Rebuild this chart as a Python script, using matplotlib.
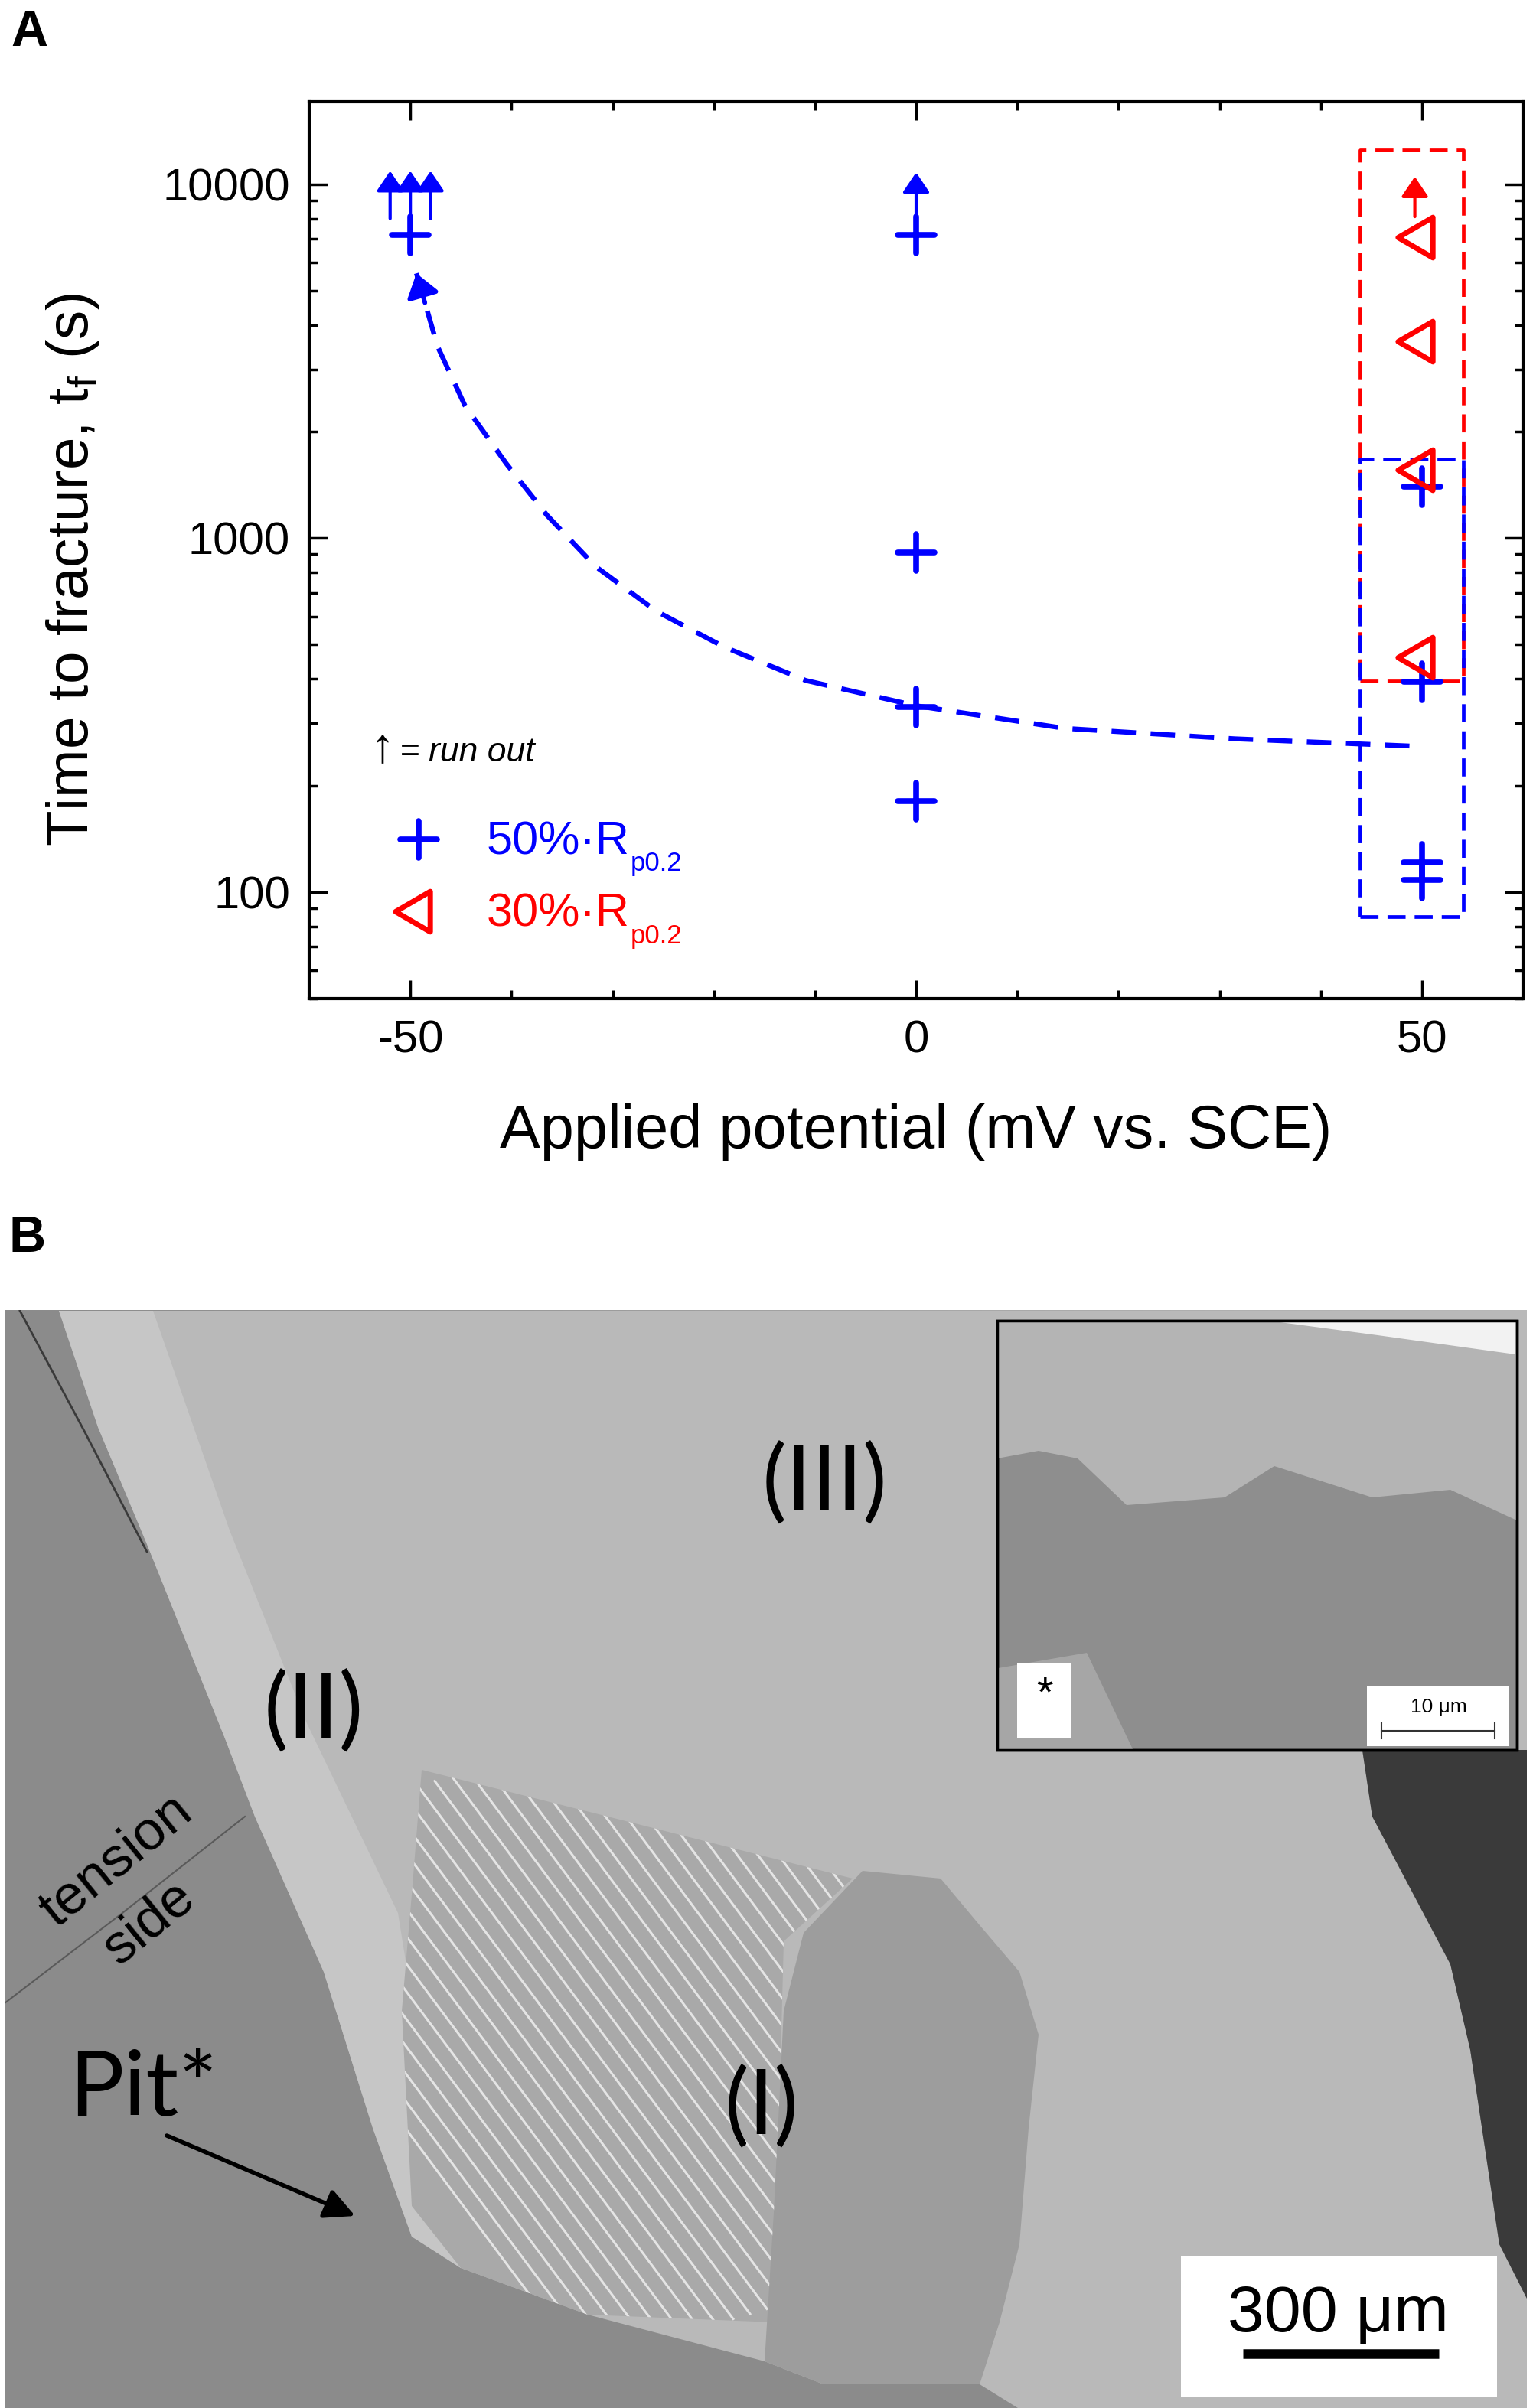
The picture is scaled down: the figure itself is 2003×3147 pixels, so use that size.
import numpy as np
import matplotlib
matplotlib.use('Agg')
import matplotlib.pyplot as plt
from matplotlib.ticker import MultipleLocator, LogLocator, NullFormatter, FuncFormatter
from matplotlib.markers import MarkerStyle
from matplotlib.path import Path
from matplotlib.patches import Polygon, Rectangle

plt.rcParams['font.family'] = ['Liberation Sans', 'DejaVu Sans']
plt.rcParams['mathtext.fontset'] = 'custom'
plt.rcParams['mathtext.rm'] = 'Liberation Sans'
plt.rcParams['mathtext.it'] = 'Liberation Sans:italic'

# ---- data (panel A) ----
pot_50 = [-50, 0, 0, 0, 0, 50, 50, 50, 50]
tf_50 = [7200, 7200, 910, 333, 181, 1400, 392, 121, 108]
pot_30 = [49.3, 49.3, 49.3, 49.3]
tf_30 = [7100, 3600, 1560, 460]

# run-out arrows (start value -> arrow tip)
runout_50_x = [-52, -50, -48, 0]
runout_50_from = [8000, 7200, 8000, 7200]
runout_50_to = [10900, 10900, 10900, 10800]
runout_30_x = [49.3]
runout_30_from = [8100]
runout_30_to = [10500]

# guide curve for 50% Rp0.2
curve_x = [-49.4, -47.3, -44.6, -40.5, -36.5, -31.7, -25.7, -19.0, -10.9, 0, 14.7, 31.5, 49.7]
curve_y = [5600, 3475, 2367, 1622, 1161, 832, 622, 493, 396, 336, 290, 271, 258]

# highlighted groups at +50 mV
box_x = [43.9, 54.1]
red_box_y = [395, 12500]
blue_box_y = [85, 1670]

BLUE = '#0000FF'
RED = '#FF0000'

W, H = 2003, 3147
fig = plt.figure(figsize=(W / 100, H / 100), dpi=100)


def fx(px):
    return px / W


def fy(py):
    return 1 - py / H


# ================= panel A =================
ax = fig.add_axes([fx(404), fy(1305), (1990 - 404) / W, (1305 - 133) / H])
ax.set_yscale('log')
ax.set_xlim(-60, 60)
ax.set_ylim(50, 17100)

plus = MarkerStyle('+', capstyle='round')
tri = Path([(-0.86, 0), (0.86, 1), (0.86, -1), (-0.86, 0)],
           [Path.MOVETO, Path.LINETO, Path.LINETO, Path.CLOSEPOLY])

# dashed boxes
for ys, col in [(red_box_y, RED), (blue_box_y, BLUE)]:
    ax.plot([box_x[0], box_x[1], box_x[1], box_x[0], box_x[0]],
            [ys[0], ys[0], ys[1], ys[1], ys[0]],
            color=col, lw=3.4, dashes=(5, 2.5), zorder=2)

# guide curve with arrow head at its start
ax.plot(curve_x, curve_y, color=BLUE, lw=4.6, dashes=(5, 3), zorder=3)
p0 = ax.transData.transform((curve_x[0], curve_y[0]))
p1 = ax.transData.transform((curve_x[1], curve_y[1]))
d = (p1 - p0) / np.hypot(*(p1 - p0)) * 40 * 0.72
ax.annotate('', xy=(curve_x[0], curve_y[0]), xytext=(d[0], d[1]),
            textcoords='offset points',
            arrowprops=dict(arrowstyle='-|>,head_length=0.45,head_width=0.32',
                            mutation_scale=40, color=BLUE, lw=4.2,
                            shrinkA=0, shrinkB=0), zorder=3)

# run-out arrows
for xs, y0s, y1s, col in [(runout_50_x, runout_50_from, runout_50_to, BLUE),
                          (runout_30_x, runout_30_from, runout_30_to, RED)]:
    for x, y0, y1 in zip(xs, y0s, y1s):
        ax.annotate('', xy=(x, y1), xytext=(x, y0),
                    arrowprops=dict(arrowstyle='-|>,head_length=0.4,head_width=0.27',
                                    mutation_scale=40, color=col, lw=3.0,
                                    shrinkA=0, shrinkB=0), zorder=4)

ax.plot(pot_50, tf_50, ls='none', marker=plus, ms=35, mew=5.5, color=BLUE, zorder=5)
ax.plot(pot_30, tf_30, ls='none', marker=tri, ms=38, mew=5, mfc='none', mec=RED, zorder=5)

# legend drawn by hand
ax.text(-54.0, 234, '\u2191', fontsize=46, va='baseline', ha='left')
ax.text(-51.0, 234, '=', fontsize=32, va='baseline', ha='left')
ax.text(-48.2, 234, 'run out', fontsize=32, va='baseline', ha='left', style='italic')

ax.plot([-49.2], [141], ls='none', marker=plus, ms=35, mew=5.5, color=BLUE)
ax.plot([-49.8], [88], ls='none', marker=tri, ms=38, mew=5, mfc='none', mec=RED)
for label, yb, col in [('50%\u00b7R', 128, BLUE), ('30%\u00b7R', 80, RED)]:
    t = ax.text(-42.5, yb, label, fontsize=44, color=col, va='baseline', ha='left')
    ax.annotate('p0.2', xy=(1, yb), xycoords=(t, 'data'), xytext=(1, -16),
                textcoords='offset points', fontsize=25, color=col,
                va='baseline', ha='left')

ax.xaxis.set_major_locator(MultipleLocator(50))
ax.xaxis.set_minor_locator(MultipleLocator(10))
ax.yaxis.set_major_locator(LogLocator(base=10))
ax.yaxis.set_minor_locator(LogLocator(base=10, subs=range(2, 10)))
ax.yaxis.set_minor_formatter(NullFormatter())
ax.yaxis.set_major_formatter(FuncFormatter(lambda v, p: '%d' % round(v)))
ax.xaxis.set_major_formatter(FuncFormatter(lambda v, p: '%d' % round(v)))
ax.tick_params(which='both', direction='in', top=True, right=True, width=2.5)
ax.tick_params(which='major', length=17, labelsize=43)
ax.tick_params(which='minor', length=8)
ax.tick_params(axis='x', pad=20)
ax.tick_params(axis='y', pad=18)
for s in ax.spines.values():
    s.set_linewidth(3)

fig.text(fx(1197), fy(1500), 'Applied potential (mV vs. SCE)', fontsize=57,
         ha='center', va='baseline')
fig.text(fx(96), fy(744), 'Time to fracture, t$_\\mathregular{f}$ (s)', fontsize=55,
         ha='center', va='center', rotation=90)
fig.text(fx(14), fy(60), 'A', fontsize=48, fontweight='bold', va='baseline')
fig.text(fx(12), fy(1636), 'B', fontsize=48, fontweight='bold', va='baseline')

# ================= panel B (SEM image, sketched) =================
pax = fig.add_axes([fx(6), 0, (1995 - 6) / W, (3147 - 1712) / H])
pax.set_xlim(6, 1995)
pax.set_ylim(3147, 1712)
pax.axis('off')

pax.add_patch(Rectangle((6, 1712), 1989, 1435, color='#8b8b8b', zorder=0))
pax.plot([26, 110, 192], [1713, 1870, 2028], color='#3a3a3a', lw=2, zorder=1)
pax.plot([6, 160, 320], [2618, 2500, 2374], color='#5a5a5a', lw=1.5, zorder=1)

fracture = [(77, 1713), (1995, 1712), (1995, 2287), (1780, 2287), (1793, 2374),
            (1895, 2567), (1921, 2679), (1959, 2933), (1995, 3004), (1995, 3147),
            (1330, 3147), (1280, 3116), (1076, 3116), (999, 3086), (768, 3025),
            (602, 2964), (538, 2923), (487, 2781), (423, 2577), (333, 2374),
            (294, 2272), (192, 2018), (128, 1865)]
pax.add_patch(Polygon(fracture, closed=True, fc='#b9b9b9', ec='none', zorder=1))

band2 = [(77, 1713), (200, 1713), (300, 2000), (400, 2250), (520, 2500), (560, 2750),
         (620, 2950), (602, 2964), (538, 2923), (487, 2781), (423, 2577), (333, 2374),
         (294, 2272), (192, 2018), (128, 1865)]
pax.add_patch(Polygon(band2, closed=True, fc='#c6c6c6', ec='none', zorder=1))

dark = [(1780, 2287), (1995, 2287), (1995, 3004), (1959, 2933), (1921, 2679),
        (1895, 2567), (1793, 2374)]
pax.add_patch(Polygon(dark, closed=True, fc='#3a3a3a', ec='none', zorder=1))

striated = [(551, 2313), (794, 2374), (1114, 2455), (1024, 2537), (1011, 3035),
            (768, 3025), (602, 2964), (538, 2883), (525, 2628), (538, 2476)]
spatch = Polygon(striated, closed=True, fc='#a9a9a9', ec='none', zorder=2)
pax.add_patch(spatch)
for k in np.arange(-300, 500, 22):
    ln, = pax.plot([560 + k, 1060 + k], [2330 - k * 0.3, 2880 - k * 0.3 + 120],
                   color='#e4e4e4', lw=2.2, zorder=3)
    ln.set_clip_path(spatch)

smooth = [(1127, 2445), (1229, 2455), (1280, 2516), (1332, 2577), (1357, 2659),
          (1344, 2781), (1332, 2933), (1306, 3035), (1280, 3116), (1076, 3116),
          (999, 3086), (1011, 2892), (1024, 2628), (1050, 2526)]
pax.add_patch(Polygon(smooth, closed=True, fc='#9d9d9d', ec='none', zorder=4))

lab = dict(family='Lato', ha='center', va='center', zorder=6)
pax.text(1078, 1940, '(III)', fontsize=86, **lab)
pax.text(410, 2238, '(II)', fontsize=86, **lab)
pax.text(995, 2755, '(I)', fontsize=86, **lab)
pax.text(90, 2765, 'Pit*', fontsize=86, family='Lato', ha='left', va='baseline', zorder=6)
pax.text(153, 2432, 'tension', fontsize=52, rotation=39, ha='center', va='center',
         rotation_mode='anchor', zorder=6)
pax.text(195, 2514, 'side', fontsize=52, rotation=39, ha='center', va='center',
         rotation_mode='anchor', zorder=6)
pax.annotate('', xy=(464, 2896), xytext=(218, 2791),
             arrowprops=dict(arrowstyle='-|>,head_length=0.6,head_width=0.3',
                             mutation_scale=40, color='black', lw=4,
                             shrinkA=0, shrinkB=0), zorder=6)

# scale bar
pax.add_patch(Rectangle((1543, 2949), 413, 183, fc='white', ec='none', zorder=6))
pax.text(1748, 3046, '300 \u03bcm', fontsize=62, ha='center', va='baseline', zorder=7)
pax.plot([1624, 1880], [3076, 3076], color='black', lw=9, solid_capstyle='butt', zorder=7)

# inset
pax.add_patch(Rectangle((1303, 1726), 679, 561, fc='#8e8e8e', ec='black', lw=2.5, zorder=8))
top_band = [(1303, 1726), (1982, 1726), (1982, 1987), (1895, 1947), (1793, 1957),
            (1665, 1916), (1600, 1957), (1472, 1967), (1408, 1906), (1357, 1896),
            (1303, 1906)]
pax.add_patch(Polygon(top_band, closed=True, fc='#b4b4b4', ec='none', zorder=9))
pax.add_patch(Polygon([(1665, 1727), (1980, 1727), (1980, 1770), (1800, 1745)],
                      closed=True, fc='#f2f2f2', ec='none', zorder=9))
pax.add_patch(Polygon([(1304, 2180), (1420, 2160), (1480, 2286), (1304, 2286)],
                      closed=True, fc='#a6a6a6', ec='none', zorder=9))
pax.add_patch(Rectangle((1303, 1726), 679, 561, fc='none', ec='black', lw=2.5, zorder=11))
pax.add_patch(Rectangle((1329, 2173), 71, 99, fc='white', ec='none', zorder=10))
pax.text(1365, 2215, '*', fontsize=40, ha='center', va='center', zorder=11)
pax.add_patch(Rectangle((1786, 2204), 186, 78, fc='white', ec='none', zorder=10))
pax.text(1880, 2238, '10 \u03bcm', fontsize=19, ha='center', va='baseline', zorder=11)
pax.plot([1805, 1953], [2262, 2262], color='#333333', lw=1.5, zorder=11)
pax.plot([1805, 1805], [2252, 2272], color='#333333', lw=1.5, zorder=11)
pax.plot([1953, 1953], [2252, 2272], color='#333333', lw=1.5, zorder=11)

fig.savefig('out.png', dpi=100)
